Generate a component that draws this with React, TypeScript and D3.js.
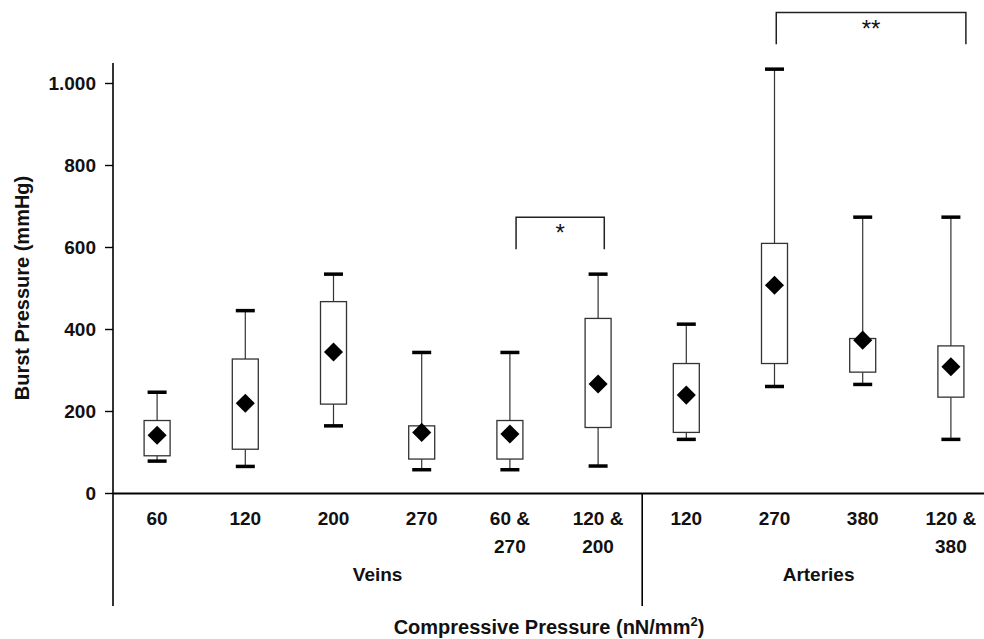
import React from "react";
import * as d3 from "d3";

const categories: string[][] = [
  ["60"], ["120"], ["200"], ["270"], ["60 &", "270"], ["120 &", "200"],
  ["120"], ["270"], ["380"], ["120 &", "380"],
];
const groups = [
  { name: "Veins", start: 0, end: 5 },
  { name: "Arteries", start: 6, end: 9 },
];
const whiskerLow = [79, 66, 165, 58, 58, 67, 132, 261, 266, 132];
const q1 = [92, 108, 218, 84, 84, 161, 149, 317, 296, 235];
const q3 = [178, 328, 468, 165, 178, 427, 317, 610, 378, 360];
const whiskerHigh = [247, 446, 535, 344, 344, 535, 413, 1035, 674, 674];
const means = [142, 220, 345, 149, 145, 267, 240, 508, 374, 309];
const yTicks = [0, 200, 400, 600, 800, 1000];
const brackets = [
  { from: 4.07, to: 5.07, top: 674, bottom: 596, label: "*" },
  { from: 7.02, to: 9.17, top: 1173, bottom: 1096, label: "**" },
];

const W = 984;
const H = 639;
const FONT = "'Liberation Sans', Arial, Helvetica, sans-serif";

export default function App() {
  const x = d3.scaleBand<number>().domain(d3.range(categories.length)).range([113, 995]).padding(0);
  const y = d3.scaleLinear().domain([0, 1050]).range([493.5, 63]);
  const bw = x.bandwidth();
  const cx = (i: number) => (x(i) as number) + bw / 2;
  const fx = (f: number) => 113 + bw * (f + 0.5);
  const boxW = 26;
  const capW = 19;
  const diamond = d3.symbol(d3.symbolSquare, 182)() as string;
  const fmt = (v: number) => (v >= 1000 ? d3.format(",")(v).replace(",", ".") : String(v));

  return (
    <div style={{ position: "absolute", left: 0, top: 0 }}>
      <svg width={W} height={H} style={{ display: "block", background: "#fff" }} fontFamily={FONT}>
        {/* y axis */}
        <line x1={113} x2={113} y1={y(1050)} y2={y(0)} stroke="#000" strokeWidth={1.6} />
        {yTicks.map((t) => (
          <g key={t}>
            <line x1={105} x2={113} y1={y(t)} y2={y(t)} stroke="#000" strokeWidth={1.4} />
            <text x={96} y={y(t)} dy="0.36em" textAnchor="end" fontSize={19} fontWeight="bold" fill="#111">
              {fmt(t)}
            </text>
          </g>
        ))}
        <text
          transform={`translate(29,${288}) rotate(-90)`}
          textAnchor="middle"
          fontSize={20}
          fontWeight="bold"
          fill="#111"
        >
          Burst Pressure (mmHg)
        </text>
        {/* x axis */}
        <line x1={113} x2={W} y1={y(0)} y2={y(0)} stroke="#000" strokeWidth={2} />
        <line x1={113} x2={113} y1={y(0)} y2={606} stroke="#000" strokeWidth={1.6} />
        <line x1={x(6) as number} x2={x(6) as number} y1={y(0)} y2={606} stroke="#000" strokeWidth={1.6} />
        {categories.map((lines, i) => (
          <text key={i} x={cx(i)} y={524.5} textAnchor="middle" fontSize={19} fontWeight="bold" fill="#111">
            {lines.map((l, k) => (
              <tspan key={k} x={cx(i)} dy={k === 0 ? 0 : 28.5}>
                {l}
              </tspan>
            ))}
          </text>
        ))}
        {groups.map((g) => (
          <text
            key={g.name}
            x={((x(g.start) as number) + (x(g.end) as number) + bw) / 2}
            y={581}
            textAnchor="middle"
            fontSize={19}
            fontWeight="bold"
            fill="#111"
          >
            {g.name}
          </text>
        ))}
        <text x={549} y={634} textAnchor="middle" fontSize={20} fontWeight="bold" fill="#111">
          Compressive Pressure (nN/mm
          <tspan fontSize={13} dy={-8}>2</tspan>
          <tspan dy={8}>)</tspan>
        </text>
        {/* boxes */}
        {categories.map((_, i) => (
          <g key={i}>
            <line x1={cx(i)} x2={cx(i)} y1={y(whiskerHigh[i])} y2={y(q3[i])} stroke="#333" strokeWidth={1.2} />
            <line x1={cx(i)} x2={cx(i)} y1={y(q1[i])} y2={y(whiskerLow[i])} stroke="#333" strokeWidth={1.2} />
            <line x1={cx(i) - capW / 2} x2={cx(i) + capW / 2} y1={y(whiskerHigh[i])} y2={y(whiskerHigh[i])} stroke="#000" strokeWidth={3.5} />
            <line x1={cx(i) - capW / 2} x2={cx(i) + capW / 2} y1={y(whiskerLow[i])} y2={y(whiskerLow[i])} stroke="#000" strokeWidth={3.5} />
            <rect
              x={cx(i) - boxW / 2}
              y={y(q3[i])}
              width={boxW}
              height={y(q1[i]) - y(q3[i])}
              fill="#fff"
              stroke="#333"
              strokeWidth={1.3}
            />
            <path d={diamond} transform={`translate(${cx(i)},${y(means[i])}) rotate(45)`} fill="#000" />
          </g>
        ))}
        {/* significance brackets */}
        {brackets.map((b, k) => (
          <g key={k}>
            <path
              d={`M${fx(b.from)},${y(b.bottom)}V${y(b.top)}H${fx(b.to)}V${y(b.bottom)}`}
              fill="none"
              stroke="#222"
              strokeWidth={1.5}
            />
            <text
              x={(fx(b.from) + fx(b.to)) / 2}
              y={y(b.top) + 24}
              textAnchor="middle"
              fontSize={24}
              fill="#111"
            >
              {b.label}
            </text>
          </g>
        ))}
      </svg>
    </div>
  );
}
